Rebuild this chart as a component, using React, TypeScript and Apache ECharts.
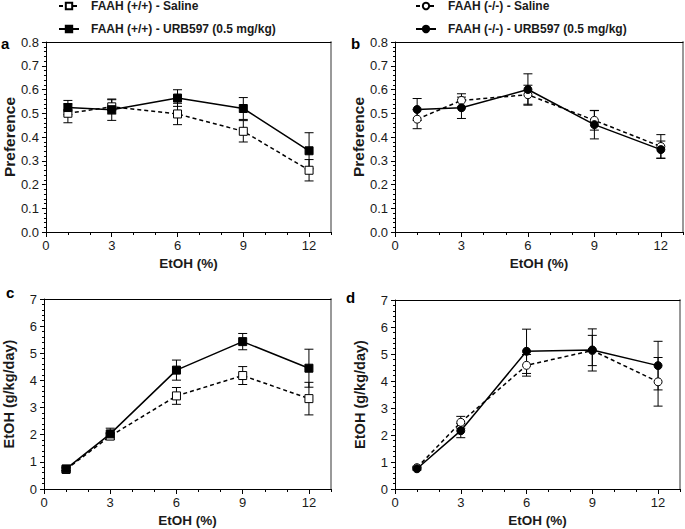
import React, { useEffect, useRef } from "react";
import * as echarts from "echarts";

const doses = [1, 3, 6, 9, 12];
const xTickLabels = [0, 3, 6, 9, 12];

const nameWtSaline = "FAAH (+/+) - Saline";
const nameWtUrb = "FAAH (+/+) - URB597 (0.5 mg/kg)";
const nameKoSaline = "FAAH (-/-) - Saline";
const nameKoUrb = "FAAH (-/-) - URB597 (0.5 mg/kg)";

const prefWtSaline = [0.5, 0.527, 0.497, 0.424, 0.26];
const prefWtSalineErr = [0.04, 0.03, 0.045, 0.045, 0.045];
const prefWtUrb = [0.524, 0.515, 0.564, 0.52, 0.342];
const prefWtUrbErr = [0.03, 0.045, 0.035, 0.046, 0.076];

const prefKoSaline = [0.475, 0.554, 0.578, 0.47, 0.36];
const prefKoSalineErr = [0.04, 0.028, 0.04, 0.041, 0.05];
const prefKoUrb = [0.516, 0.523, 0.6, 0.452, 0.347];
const prefKoUrbErr = [0.046, 0.045, 0.066, 0.06, 0.036];

const intakeWtSaline = [0.72, 1.95, 3.43, 4.18, 3.33];
const intakeWtSalineErr = [0.05, 0.1, 0.31, 0.33, 0.6];
const intakeWtUrb = [0.74, 2.03, 4.38, 5.43, 4.45];
const intakeWtUrbErr = [0.06, 0.21, 0.37, 0.3, 0.7];

const intakeKoSaline = [0.79, 2.47, 4.58, 5.13, 3.97];
const intakeKoSalineErr = [0.05, 0.22, 0.4, 0.56, 0.9];
const intakeKoUrb = [0.75, 2.16, 5.1, 5.15, 4.57];
const intakeKoUrbErr = [0.05, 0.26, 0.82, 0.78, 0.9];

const FONT = "Liberation Sans, Arial, sans-serif";
const TXT = "#1a1a1a";

export default function App() {
  const ref = useRef<HTMLDivElement>(null);
  useEffect(() => {
    document.body.style.margin = "0";
    if (!ref.current) return;
    const chart = echarts.init(ref.current, undefined, { renderer: "svg" });

    const grids = [
      { left: 44, top: 42, width: 287, height: 190 },
      { left: 395, top: 42, width: 288, height: 190 },
      { left: 44, top: 299, width: 287, height: 190 },
      { left: 395, top: 300, width: 285, height: 189 },
    ];

    const xAxes: any[] = [];
    const yAxes: any[] = [];
    grids.forEach((_, gi) => {
      xAxes.push({
        type: "value",
        gridIndex: gi,
        min: 0,
        max: 13,
        interval: 1,
        position: "bottom",
        axisLine: { show: true, onZero: false, lineStyle: { color: "#000", width: 1 } },
        axisTick: { show: true, length: 3, lineStyle: { color: "#000" } },
        axisLabel: {
          show: true,
          customValues: xTickLabels,
          margin: 7,
          fontSize: 13,
          color: TXT,
          fontFamily: FONT,
        },
        splitLine: { show: false },
        name: "EtOH (%)",
        nameLocation: "middle",
        nameGap: 24,
        nameTextStyle: { fontWeight: "bold", fontSize: 13.5, color: TXT, fontFamily: FONT },
      });
      xAxes.push({
        type: "value",
        gridIndex: gi,
        min: 0,
        max: 13,
        position: "bottom",
        axisLine: { show: false },
        axisTick: { show: true, length: 5, customValues: xTickLabels, lineStyle: { color: "#000" } },
        axisLabel: { show: false },
        splitLine: { show: false },
      });
      xAxes.push({
        type: "value",
        gridIndex: gi,
        min: 0,
        max: 13,
        position: "top",
        axisLine: { show: true, onZero: false, lineStyle: { color: "#000", width: 1 } },
        axisTick: { show: false },
        axisLabel: { show: false },
        splitLine: { show: false },
      });
      const isPref = gi < 2;
      yAxes.push({
        type: "value",
        gridIndex: gi,
        min: 0,
        max: isPref ? 0.8 : 7,
        interval: isPref ? 0.1 : 1,
        position: "left",
        axisLine: { show: true, onZero: false, lineStyle: { color: "#000", width: 1 } },
        axisTick: { show: true, length: 4, lineStyle: { color: "#000" } },
        minorTick: { show: true, splitNumber: 5, length: 2, lineStyle: { color: "#000" } },
        axisLabel: {
          margin: 7,
          fontSize: 13,
          color: TXT,
          fontFamily: FONT,
          formatter: (v: number) => (isPref ? v.toFixed(1) : String(Math.round(v))),
        },
        splitLine: { show: false },
        minorSplitLine: { show: false },
        name: isPref ? "Preference" : "EtOH (g/kg/day)",
        nameLocation: "middle",
        nameGap: 28,
        nameTextStyle: {
          fontWeight: "bold",
          fontSize: isPref ? 15.5 : 14.5,
          color: TXT,
          fontFamily: FONT,
        },
      });
      yAxes.push({
        type: "value",
        gridIndex: gi,
        min: 0,
        max: 1,
        position: "right",
        axisLine: { show: true, onZero: false, lineStyle: { color: "#999", width: 2 } },
        axisTick: { show: false },
        axisLabel: { show: false },
        splitLine: { show: false },
      });
    });

    const errSeries = (gi: number, vals: number[], errs: number[]) => ({
      type: "custom",
      xAxisIndex: gi * 3,
      yAxisIndex: gi * 2,
      z: 1,
      silent: true,
      encode: { x: 0, y: 1 },
      data: doses.map((d, i) => [d, vals[i], errs[i]]),
      renderItem: (_p: any, api: any) => {
        const x = api.value(0);
        const y = api.value(1);
        const e = api.value(2);
        const top = api.coord([x, y + e]);
        const bot = api.coord([x, y - e]);
        const hw = 4.5;
        const st = { stroke: "#000", lineWidth: 1 };
        return {
          type: "group",
          children: [
            { type: "line", shape: { x1: top[0], y1: top[1], x2: bot[0], y2: bot[1] }, style: st },
            { type: "line", shape: { x1: top[0] - hw, y1: top[1], x2: top[0] + hw, y2: top[1] }, style: st },
            { type: "line", shape: { x1: bot[0] - hw, y1: bot[1], x2: bot[0] + hw, y2: bot[1] }, style: st },
          ],
        };
      },
    });

    const lineSeries = (
      gi: number,
      name: string,
      vals: number[],
      open: boolean,
      symbol: string
    ) => ({
      type: "line",
      name,
      xAxisIndex: gi * 3,
      yAxisIndex: gi * 2,
      z: open ? 2 : 3,
      symbol,
      symbolSize: 8,
      showAllSymbol: true,
      data: doses.map((d, i) => [d, vals[i]]),
      lineStyle: { color: "#000", width: 1.5, type: open ? [4, 3] : "solid" },
      itemStyle: {
        color: open ? "#fff" : "#000",
        borderColor: "#000",
        borderWidth: 1,
        opacity: 1,
      },
      emphasis: { disabled: true },
    });

    const series: any[] = [
      errSeries(0, prefWtSaline, prefWtSalineErr),
      errSeries(0, prefWtUrb, prefWtUrbErr),
      lineSeries(0, nameWtSaline, prefWtSaline, true, "rect"),
      lineSeries(0, nameWtUrb, prefWtUrb, false, "rect"),
      errSeries(1, prefKoSaline, prefKoSalineErr),
      errSeries(1, prefKoUrb, prefKoUrbErr),
      lineSeries(1, nameKoSaline, prefKoSaline, true, "circle"),
      lineSeries(1, nameKoUrb, prefKoUrb, false, "circle"),
      errSeries(2, intakeWtSaline, intakeWtSalineErr),
      errSeries(2, intakeWtUrb, intakeWtUrbErr),
      lineSeries(2, nameWtSaline, intakeWtSaline, true, "rect"),
      lineSeries(2, nameWtUrb, intakeWtUrb, false, "rect"),
      errSeries(3, intakeKoSaline, intakeKoSalineErr),
      errSeries(3, intakeKoUrb, intakeKoUrbErr),
      lineSeries(3, nameKoSaline, intakeKoSaline, true, "circle"),
      lineSeries(3, nameKoUrb, intakeKoUrb, false, "circle"),
    ];

    const legendBase = {
      orient: "vertical",
      top: -5,
      itemGap: 11,
      itemWidth: 20,
      itemHeight: 8,
      selectedMode: false,
      textStyle: {
        fontWeight: "bold",
        fontSize: 12,
        color: TXT,
        fontFamily: FONT,
        padding: [0, 0, 0, 7],
      },
    };

    const letter = (t: string, left: number, top: number) => ({
      type: "text",
      left,
      top,
      style: { text: t, font: `bold 15px ${FONT}`, fill: "#000" },
    });

    chart.setOption({
      animation: false,
      backgroundColor: "#fff",
      grid: grids,
      xAxis: xAxes,
      yAxis: yAxes,
      series,
      legend: [
        { ...legendBase, left: 53, data: [nameWtSaline, nameWtUrb] },
        { ...legendBase, left: 410, data: [nameKoSaline, nameKoUrb] },
      ],
      graphic: [
        letter("a", 1, 36),
        letter("b", 351, 36),
        letter("c", 6, 285),
        letter("d", 346, 290),
      ],
    });
    return () => chart.dispose();
  }, []);
  return <div ref={ref} style={{ width: 685, height: 529 }} />;
}
